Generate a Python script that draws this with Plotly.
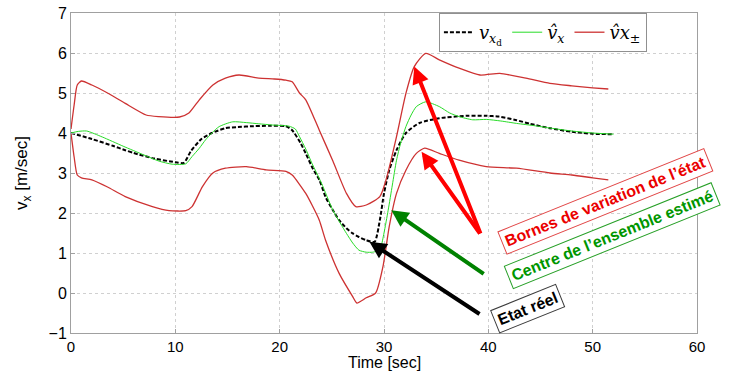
import plotly.graph_objects as go

# ---- data ----
t_true = [0, 2, 4, 5.2, 6, 8, 10, 10.8, 11.5, 12.5, 13.5, 14.8, 16, 17.5, 19, 20.6, 21.2, 22, 22.5, 23.2, 23.8,
          24.4, 25.1, 25.7, 26.4, 27, 27.6, 28.3, 29.1, 29.6, 30, 30.5, 31.2, 32.1, 33.4, 35.3, 37.9, 39.8, 41,
          42.7, 44, 45.9, 48, 50, 52]
v_true = [4.0, 3.85, 3.68, 3.57, 3.5, 3.36, 3.27, 3.25, 3.55, 3.85, 4.0, 4.12, 4.15, 4.17, 4.18, 4.17, 4.07,
          3.75, 3.49, 3.1, 2.83, 2.4, 2.07, 1.82, 1.62, 1.49, 1.4, 1.32, 1.28, 1.82, 2.49, 3.07, 3.57, 4.0, 4.25,
          4.37, 4.43, 4.43, 4.41, 4.32, 4.23, 4.12, 4.03, 3.98, 3.97]

t_est = [0, 0.7, 1.5, 3, 5, 7, 8.4, 9.7, 11, 11.6, 12.3, 12.9, 13.5, 14.2, 15.5, 16.8, 18, 19.3, 20.9, 21.5,
         21.9, 22.5, 23.1, 24, 25.1, 25.8, 26.4, 27, 27.6, 28.3, 28.9, 29.3, 29.7, 30, 30.4, 30.8, 31.2, 31.6,
         32.1, 32.6, 33.1, 34, 35.3, 36.3, 37.2, 38.5, 39.8, 41.2, 42.7, 44.5, 46, 48, 50, 52]
v_est = [4.0, 4.04, 4.05, 3.9, 3.67, 3.45, 3.3, 3.22, 3.23, 3.41, 3.62, 3.83, 4.0, 4.16, 4.28, 4.26, 4.23, 4.2,
         4.17, 4.1, 3.91, 3.6, 3.24, 2.75, 2.07, 1.75, 1.49, 1.25, 1.07, 1.02, 1.02, 1.05, 1.16, 1.5, 2.07, 2.7,
         3.32, 3.75, 4.16, 4.45, 4.66, 4.78, 4.66, 4.5, 4.41, 4.33, 4.34, 4.3, 4.24, 4.18, 4.12, 4.05, 4.0, 3.97]

t_up = [0, 0.3, 0.6, 1, 2, 3.5, 5.2, 7.2, 8.4, 10.4, 11.3, 12.3, 13.6, 14.8, 16.1, 18, 19.5, 20.6, 21.2, 21.9,
        22.5, 23.8, 25.1, 26.4, 27.3, 28.3, 29.6, 30.2, 31.2, 32.1, 32.9, 34, 35.3, 37.2, 39.2, 41.1, 43.6, 45.9,
        48, 50, 51.5]
v_up = [4.1, 4.7, 5.2, 5.3, 5.2, 5.0, 4.74, 4.45, 4.41, 4.4, 4.5, 4.83, 5.2, 5.37, 5.45, 5.37, 5.35, 5.32, 5.28,
        5.0, 4.83, 4.07, 3.3, 2.49, 2.16, 2.2, 2.41, 2.83, 3.91, 4.99, 5.66, 5.99, 5.83, 5.62, 5.45, 5.49, 5.37,
        5.24, 5.18, 5.13, 5.1]

t_low = [0, 0.3, 0.6, 1, 2, 3.5, 5.2, 7.8, 9.4, 11, 11.6, 12.6, 13.6, 14.8, 16.8, 18.7, 20.6, 21.2, 22.5, 23.1,
         23.8, 24.4, 25.7, 27, 27.4, 28.3, 29.2, 29.9, 30.5, 31.2, 32.1, 33.1, 33.9, 35.3, 37.2, 39.8, 42.7, 45.9,
         48, 50, 51.5]
v_low = [4.0, 3.4, 2.95, 2.88, 2.83, 2.65, 2.41, 2.16, 2.06, 2.06, 2.16, 2.66, 3.0, 3.12, 3.16, 3.08, 3.04, 2.95,
         2.49, 2.2, 1.82, 1.32, 0.49, -0.09, -0.25, -0.12, 0.0, 0.66, 1.66, 2.49, 3.07, 3.49, 3.62, 3.49, 3.32,
         3.16, 3.12, 3.0, 2.95, 2.88, 2.83]

x_ticks = [0, 10, 20, 30, 40, 50, 60]
y_ticks = [-1, 0, 1, 2, 3, 4, 5, 6, 7]

RED = "rgb(205,50,50)"

fig = go.Figure()
fig.add_trace(go.Scatter(x=t_true, y=v_true, mode="lines",
                         line=dict(color="black", width=2, dash="4px,2px", shape="spline", smoothing=0.6),
                         name="<i>v</i><sub><i>x</i><sub>d</sub></sub>"))
fig.add_trace(go.Scatter(x=t_est, y=v_est, mode="lines",
                         line=dict(color="rgb(40,220,40)", width=1, shape="spline", smoothing=0.6),
                         name="<i>v\u0302</i><sub><i>x</i></sub>"))
fig.add_trace(go.Scatter(x=t_up, y=v_up, mode="lines",
                         line=dict(color=RED, width=1.3, shape="spline", smoothing=0.6),
                         name="<i>v\u0302x</i><sub>\u00b1</sub>", legendgroup="b"))
fig.add_trace(go.Scatter(x=t_low, y=v_low, mode="lines",
                         line=dict(color=RED, width=1.3, shape="spline", smoothing=0.6),
                         showlegend=False, legendgroup="b"))

# arrows (tail -> head)
arrows = [
    (39.3, 1.45, 32.9, 5.66, "rgb(255,0,0)"),
    (39.3, 1.45, 33.6, 3.53, "rgb(255,0,0)"),
    (39.7, 0.45, 30.7, 2.07, "rgb(0,130,0)"),
    (39.3, -0.55, 28.6, 1.28, "black"),
]
for tx, ty, hx, hy, c in arrows:
    fig.add_annotation(x=hx, y=hy, ax=tx, ay=ty, xref="x", yref="y", axref="x", ayref="y",
                       text="", showarrow=True, arrowhead=2, arrowsize=0.85, arrowwidth=4, arrowcolor=c,
                       standoff=0, startstandoff=0)

labels = [
    (51.2, 2.28, "Bornes de variation de l\u2019\u00e9tat", "rgb(235,0,0)", "rgb(225,70,70)"),
    (51.9, 1.45, "Centre de l\u2019ensemble estim\u00e9", "rgb(0,150,0)", "rgb(40,160,40)"),
    (43.8, -0.38, "Etat r\u00e9el", "black", "rgb(60,60,60)"),
]
for x, y, txt, c, bc in labels:
    fig.add_annotation(x=x, y=y, xref="x", yref="y", text="<b>" + txt + "</b>", showarrow=False,
                       textangle=-22, font=dict(family="Liberation Sans, Arial", size=16, color=c),
                       bordercolor=bc, borderwidth=1, borderpad=3, bgcolor="white")

# x-axis title
fig.add_annotation(x=0.5, y=-0.092, xref="paper", yref="paper", text="Time [sec]", showarrow=False,
                   xanchor="center", yanchor="middle",
                   font=dict(family="Liberation Sans, Arial", size=16, color="black"))

axis_common = dict(showline=True, mirror=True, linecolor="#a0a0a0", linewidth=1,
                   showgrid=True, gridcolor="#d0d0d0", griddash="dot", gridwidth=1,
                   ticks="inside", ticklen=4, tickcolor="#a0a0a0", zeroline=False,
                   tickfont=dict(family="Liberation Sans, Arial", size=16, color="black"))

fig.update_xaxes(range=[0, 60], tickvals=x_ticks, **axis_common)
fig.update_xaxes(tickfont=dict(size=15))
fig.update_yaxes(range=[-1, 7], tickvals=y_ticks, **axis_common,
                 title=dict(text="v<sub>x</sub> [m/sec]", standoff=16,
                            font=dict(family="Liberation Sans, Arial", size=17, color="black")))

fig.update_layout(
    width=744, height=371,
    margin=dict(l=71, r=47, t=13, b=38, autoexpand=False),
    plot_bgcolor="white", paper_bgcolor="white",
    legend=dict(x=0.92, xanchor="right", y=1, yanchor="top", orientation="h",
                bgcolor="white", bordercolor="#909090", borderwidth=1,
                font=dict(family="DejaVu Serif", size=18, color="black"),
                itemwidth=30, tracegroupgap=0),
    showlegend=True,
)

fig.write_html("out.html", config={"displayModeBar": False},
               post_script="document.body.style.margin='0px';")
